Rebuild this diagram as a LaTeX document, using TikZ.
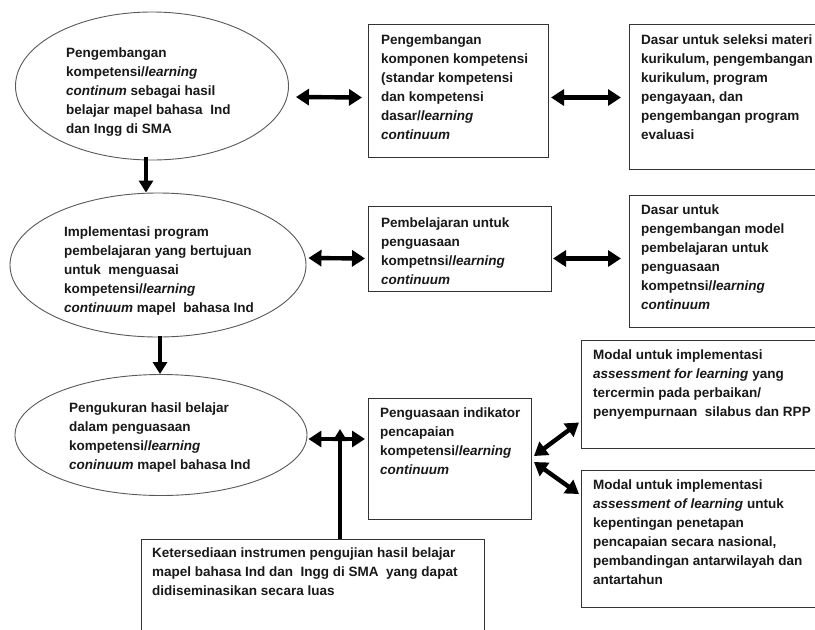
\documentclass[tikz,border=0pt]{standalone}
\usepackage{fontspec}
\setmainfont{Liberation Sans}
\usetikzlibrary{arrows.meta,shapes.geometric}
\begin{document}
\begin{tikzpicture}[x=1pt,y=-1pt,
  ov/.style={draw=black!65,line width=0.9pt,ellipse,inner sep=0pt},
  bx/.style={draw=black!80,line width=1pt,rectangle,inner sep=0pt,anchor=north west},
  tx/.style={anchor=north west,inner sep=0pt,align=left,text=black!90,
    font=\fontsize{13.5}{19}\selectfont\bfseries},
  dbl/.style={line width=4.4pt,{Triangle[length=13pt,width=16pt]}-{Triangle[length=13pt,width=16pt]}},
  sgl/.style={line width=4.4pt,-{Triangle[length=12pt,width=14pt]}}]
\clip (0,0) rectangle (815,630);
\fill[white] (0,0) rectangle (815,630);
% ellipses
\node[ov,minimum width=273pt,minimum height=148pt] (e1) at (152,86) {};
\node[ov,minimum width=296pt,minimum height=144pt] (e2) at (158,265) {};
\node[ov,minimum width=292pt,minimum height=121pt] (e3) at (161,435) {};
% boxes
\node[bx,minimum width=180pt,minimum height=133pt] (bA) at (368,24) {};
\node[bx,minimum width=200pt,minimum height=145pt] (bB) at (629,24) {};
\node[bx,minimum width=183pt,minimum height=85pt] (bC) at (368,206) {};
\node[bx,minimum width=200pt,minimum height=132pt] (bD) at (629,195) {};
\node[bx,minimum width=163pt,minimum height=121pt] (bE) at (368,398) {};
\node[bx,minimum width=343pt,minimum height=110pt] (bF) at (141,539) {};
\node[bx,minimum width=250pt,minimum height=108pt] (bG) at (581,340) {};
\node[bx,minimum width=250pt,minimum height=137pt] (bH) at (581,470) {};
% texts
\node[tx] (t1) at (66,48) {Pengembangan\\kompetensi/\textit{learning}\\\textit{continum} sebagai hasil\\belajar mapel bahasa\ \ Ind\\dan Ingg di SMA};
\node[tx] (tA) at (381,35) {Pengembangan\\komponen kompetensi\\(standar kompetensi\\dan kompetensi\\dasar/\textit{learning}\\\textit{continuum}};
\node[tx] (tB) at (641,35) {Dasar untuk seleksi materi\\kurikulum, pengembangan\\kurikulum, program\\pengayaan, dan\\pengembangan program\\evaluasi};
\node[tx] (t2) at (64,227) {Implementasi program\\pembelajaran yang bertujuan\\untuk\ \ menguasai\\kompetensi/\textit{learning}\\\textit{continuum} mapel\ \ bahasa Ind};
\node[tx] (tC) at (381,218) {Pembelajaran untuk\\penguasaan\\kompetnsi/\textit{learning}\\\textit{continuum}};
\node[tx] (tD) at (641,205) {Dasar untuk\\pengembangan model\\pembelajaran untuk\\penguasaan\\kompetnsi/\textit{learning}\\\textit{continuum}};
\node[tx] (t3) at (69,403) {Pengukuran hasil belajar\\dalam penguasaan\\kompetensi/\textit{learning}\\\textit{coninuum} mapel bahasa Ind};
\node[tx] (tE) at (380,408) {Penguasaan indikator\\pencapaian\\kompetensi/\textit{learning}\\\textit{continuum}};
\node[tx] (tF) at (152,548) {Ketersediaan instrumen pengujian hasil belajar\\mapel bahasa Ind dan\ \ Ingg di SMA\ \ yang dapat\\didiseminasikan secara luas};
\node[tx] (tG) at (593,350) {Modal untuk implementasi\\\textit{assessment for learning} yang\\tercermin pada perbaikan/\\penyempurnaan\ \ silabus dan RPP};
\node[tx] (tH) at (593,480) {Modal untuk implementasi\\\textit{assessment of learning} untuk\\kepentingan penetapan\\pencapaian secara nasional,\\pembandingan antarwilayah dan\\antartahun};
% connectors
\draw[dbl] ([shift={(7,11)}]e1.east) -- ([shift={(-6,6.5)}]bA.west);
\draw[dbl] ([shift={(2,6.5)}]bA.east) -- ([shift={(-8,0.5)}]bB.west);
\draw[dbl] ([shift={(2,-7)}]e2.east) -- ([shift={(-3,9.5)}]bC.west);
\draw[dbl] ([shift={(1,9.5)}]bC.east) -- ([shift={(-8,-3)}]bD.west);
\draw[dbl] ([shift={(1,4)}]e3.east) -- ([shift={(-3,-20)}]bE.west);
\draw[sgl] ([xshift=-6pt,yshift=3pt]e1.south) -- ([xshift=-6pt]e1.south |- e2.north);
\draw[sgl] ([xshift=2pt,yshift=1pt]e2.south) -- ([xshift=2pt]e2.south |- e3.north);
\draw[sgl] ([xshift=27pt]bF.north) -- ([xshift=27pt,yshift=6pt]bF.north |- e3.east);
\draw[dbl] ([shift={(2,-3)}]bE.east) -- ([shift={(-2,28)}]bG.west);
\draw[dbl] ([shift={(2,3)}]bE.east) -- ([shift={(-2,-45)}]bH.west);
\end{tikzpicture}
\end{document}
